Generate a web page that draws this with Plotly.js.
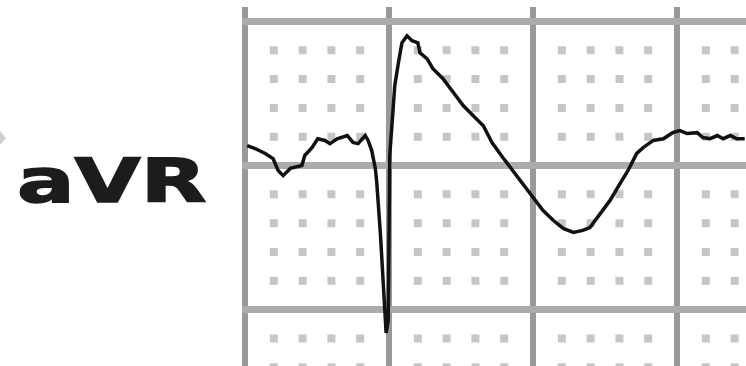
<!DOCTYPE html>
<html><head><meta charset="utf-8">
<script src="https://cdn.plot.ly/plotly-3.0.1.min.js"></script>
<style>
html,body{margin:0;padding:0;background:#fff;}
#chart{width:746px;height:366px;}
</style></head>
<body><div id="chart"></div>
<script>
// Lead label
const leadName = 'aVR';
// ECG trace: time in seconds, amplitude in mV (25 mm/s, 10 mm/mV paper)
const timeS = [0.003,0.014,0.028,0.039,0.046,0.053,0.063,0.069,0.079,0.083,0.093,0.101,0.111,0.118,0.128,0.142,0.150,0.157,0.167,0.171,0.176,0.181,0.183,0.188,0.192,0.196,0.199,0.200,0.201,0.204,0.208,0.213,0.218,0.225,0.232,0.240,0.243,0.253,0.261,0.275,0.289,0.303,0.317,0.331,0.338,0.343,0.358,0.372,0.386,0.400,0.414,0.428,0.442,0.456,0.469,0.479,0.493,0.507,0.521,0.532,0.544,0.553,0.567,0.581,0.594,0.604,0.614,0.628,0.636,0.646,0.656,0.664,0.674,0.683,0.694];
const amplitudeMv = [0.069,0.059,0.042,0.024,-0.017,-0.035,-0.010,-0.007,0.000,0.035,0.062,0.093,0.087,0.076,0.093,0.104,0.080,0.076,0.104,0.087,0.052,-0.010,-0.059,-0.235,-0.408,-0.581,-0.536,-0.329,0.035,0.138,0.277,0.356,0.426,0.450,0.433,0.426,0.391,0.370,0.336,0.301,0.253,0.208,0.173,0.138,0.104,0.080,0.028,-0.017,-0.062,-0.111,-0.156,-0.190,-0.218,-0.232,-0.225,-0.215,-0.166,-0.121,-0.062,-0.017,0.042,0.062,0.087,0.093,0.114,0.121,0.111,0.114,0.097,0.093,0.104,0.093,0.104,0.093,0.093];
// Paper grid (standard ECG paper)
const majorTimeStep = 0.2;   // s per large box
const minorTimeStep = 0.04;  // s per small box
const majorAmpStep = 0.5;    // mV per large box
const minorAmpStep = 0.1;    // mV per small box
const timeRange = [-0.0045, 0.6958];
const ampRange = [-0.6955, 0.55];

// minor-grid dots at small-box intersections (not on large-box lines)
const dotT = [], dotV = [];
for (let i = 1; i * minorTimeStep < timeRange[1]; i++) {
  if (i % 5 === 0) continue;
  for (let j = -7; j * minorAmpStep < 0.5; j++) {
    if (j % 5 === 0) continue;
    dotT.push(+(i * minorTimeStep).toFixed(3));
    dotV.push(+(j * minorAmpStep).toFixed(3));
  }
}

const traces = [
  {x: dotT, y: dotV, type: 'scatter', mode: 'markers', hoverinfo: 'skip',
   marker: {symbol: 'square', size: 8, color: '#c6c6c6'}, showlegend: false},
  {x: timeS, y: amplitudeMv, type: 'scatter', mode: 'lines', hoverinfo: 'skip',
   line: {color: '#111111', width: 3.5, shape: 'linear'}, showlegend: false}
];

const layout = {
  width: 746, height: 366,
  margin: {l: 0, r: 0, t: 0, b: 0},
  paper_bgcolor: '#ffffff', plot_bgcolor: '#ffffff',
  showlegend: false,
  xaxis: {domain: [241.76/746, 1], range: timeRange, dtick: majorTimeStep, tick0: 0,
          showgrid: true, gridcolor: '#999999', gridwidth: 6, zeroline: false,
          showticklabels: false, ticks: '', showline: false, fixedrange: true},
  yaxis: {domain: [0, 359/366], range: ampRange, dtick: majorAmpStep, tick0: 0,
          showgrid: true, gridcolor: '#acacac', gridwidth: 7, zeroline: false,
          showticklabels: false, ticks: '', showline: false, fixedrange: true},
  annotations: [{
    text: leadName, xref: 'paper', yref: 'paper', x: 112/746, y: (366-180)/366,
    xanchor: 'center', yanchor: 'middle', showarrow: false,
    font: {family: 'DejaVu Sans', size: 61, weight: 'bold', color: '#1c1c1c'}
  }],
  shapes: [{
    type: 'path', xref: 'paper', yref: 'paper', line: {width: 0}, fillcolor: '#d0d0d0',
    path: 'M 0 ' + (366-131)/366 + ' L ' + 6/746 + ' ' + (366-138)/366 + ' L 0 ' + (366-145)/366 + ' Z'
  }]
};

Plotly.newPlot('chart', traces, layout, {staticPlot: true, displayModeBar: false}).then(() => {
  document.querySelectorAll('.annotation-text').forEach(el => {
    el.style.transformBox = 'fill-box';
    el.style.transformOrigin = 'center';
    el.style.transform = 'scaleX(1.4)';
    el.style.stroke = '#1c1c1c';
    el.style.strokeWidth = '1.5px';
  });
});
</script>
</body></html>
